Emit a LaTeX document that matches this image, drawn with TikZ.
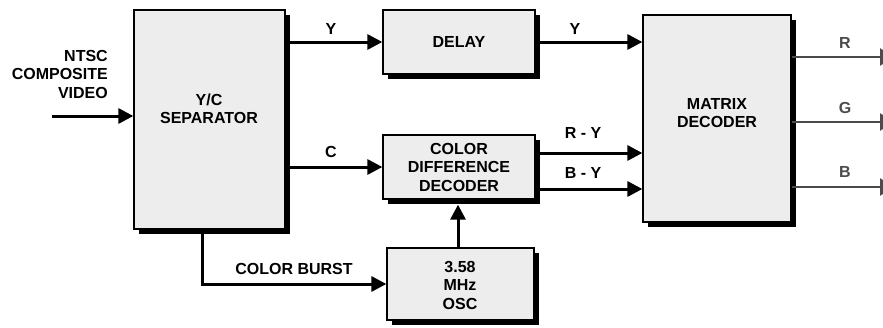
\documentclass[tikz,border=0pt]{standalone}
\usepackage{fontspec}
\setmainfont{Liberation Sans}
\usetikzlibrary{arrows.meta,shadows,calc}
\definecolor{boxfill}{RGB}{237,237,237}
\definecolor{outgray}{RGB}{75,75,75}
\begin{document}
\begin{tikzpicture}[x=1pt,y=-1pt,
  blk/.style={draw=black,line width=1.3pt,fill=boxfill,inner sep=0pt,
    drop shadow={shadow xshift=5pt,shadow yshift=-5pt,fill=black,opacity=1}},
  txt/.style={font=\fontsize{16}{18.5}\selectfont\bfseries,align=center,inner sep=0pt},
  arr/.style={line width=3pt,-{Triangle[length=15pt,width=15pt]}},
  outarr/.style={draw=outgray,line width=2.5pt,-{Triangle[length=14pt,width=17pt]}}]
\useasboundingbox (0,0) rectangle (883,327);
% boxes
\node[blk,minimum width=151pt,minimum height=219pt] (yc) at (209.5,119.5) {};
\node[blk,minimum width=152pt,minimum height=64pt] (dl) at (459,42) {};
\node[blk,minimum width=152pt,minimum height=64pt] (cdd) at (459,167) {};
\node[blk,minimum width=147pt,minimum height=72pt] (osc) at (460.5,284) {};
\node[blk,minimum width=148pt,minimum height=207pt] (mx) at (717,118.5) {};
% box texts
\node[txt] (yct) at (209,109) {Y/C\\SEPARATOR};
\node[txt] (dlt) at (dl.center) {DELAY};
\node[txt] (cddt) at (459,167) {COLOR\\DIFFERENCE\\DECODER};
\node[txt] (osct) at (460,285) {3.58\\MHz\\OSC};
\node[txt] (mxt) at (717,113) {MATRIX\\DECODER};
% input
\node[txt,align=right,anchor=east] (ntsc) at (108,74) {NTSC\\COMPOSITE\\VIDEO};
\coordinate (in) at (52,116);
\draw[arr] (in) -- (in -| yc.west);
% Y/C outputs
\draw[arr] (dl.west -| yc.east) -- (dl.west);
\node[txt] (ly1) at (331,29) {Y};
\draw[arr] (cdd.west -| yc.east) -- (cdd.west);
\node[txt] (lc) at (331,152) {C};
\coordinate (cb) at (202,0);
\draw[arr] (cb |- yc.south) |- (osc.west);
\node[txt] (lcb) at (294,269) {COLOR BURST};
% delay -> matrix
\draw[arr] (dl.east) -- (dl.east -| mx.west);
\node[txt] (ly2) at (575,29) {Y};
% color diff -> matrix
\coordinate (ry) at (0,153);
\coordinate (by) at (0,189);
\draw[arr] (ry -| cdd.east) -- (ry -| mx.west);
\node[txt] (lry) at (583,133) {R - Y};
\draw[arr] (by -| cdd.east) -- (by -| mx.west);
\node[txt] (lby) at (583,173) {B - Y};
% osc -> color diff
\draw[arr] (osc.north -| 458,0) -- ($(458,0 |- cdd.south)+(0,5)$);
% outputs
\coordinate (r) at (894,57);
\coordinate (g) at (894,122);
\coordinate (b) at (894,187);
\draw[outarr] (r -| mx.east) -- (r);
\draw[outarr] (g -| mx.east) -- (g);
\draw[outarr] (b -| mx.east) -- (b);
\node[txt,text=outgray] (lr) at (845,43) {R};
\node[txt,text=outgray] (lg) at (845,108) {G};
\node[txt,text=outgray] (lb) at (845,172) {B};
\end{tikzpicture}
\end{document}
